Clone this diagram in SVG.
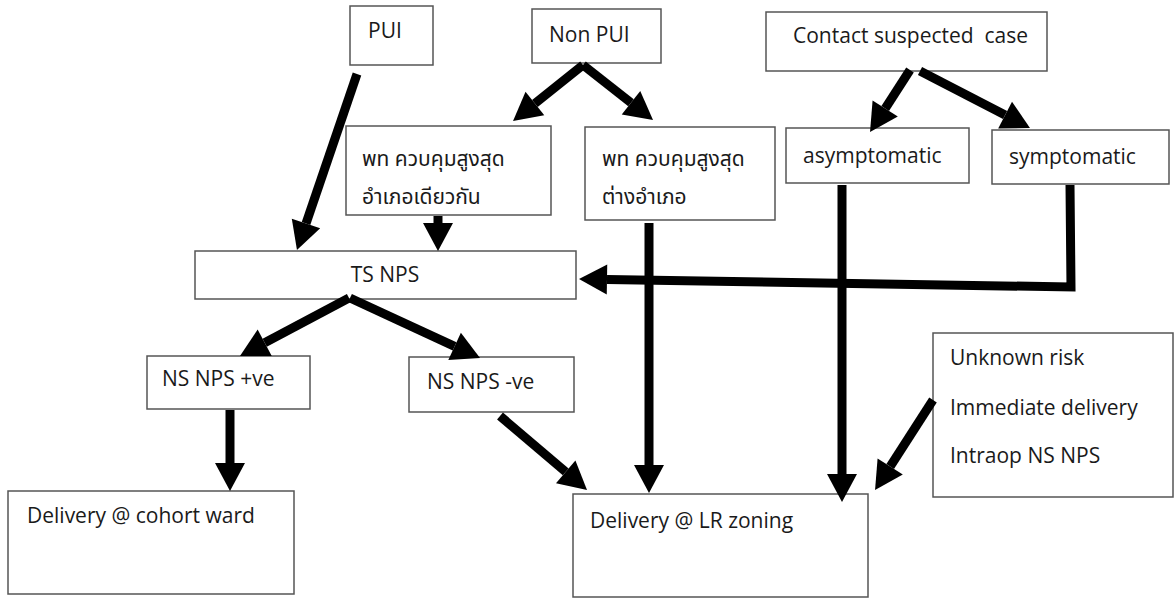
<svg xmlns="http://www.w3.org/2000/svg" width="1174" height="598" viewBox="0 0 1174 598">
<defs>
<style>
.box{fill:#fff;stroke:#555;stroke-width:1.5}
text{font-family:"Open Sans","Noto Sans Thai","Noto Sans",sans-serif;font-size:21px;fill:#1a1a1a;white-space:pre}
.c{stroke:#000;stroke-width:9;fill:none;stroke-linecap:butt;stroke-linejoin:miter}
</style>
<marker id="ah" markerUnits="userSpaceOnUse" markerWidth="28" markerHeight="30" refX="0" refY="15" orient="auto" overflow="visible">
<path d="M0,0 L28,15 L0,30 z" fill="#000"/>
</marker>
</defs>
<rect width="1174" height="598" fill="#fff"/>
<g id="pui"><rect class="box" x="350" y="6" width="83" height="59"/><text x="368" y="38">PUI</text></g>
<g id="nonpui"><rect class="box" x="532" y="9" width="129" height="54"/><text x="549" y="42">Non PUI</text></g>
<g id="contact"><rect class="box" x="766" y="12" width="281" height="59"/><text x="793" y="43" xml:space="preserve">Contact suspected  case</text></g>
<g id="same"><rect class="box" x="346" y="126" width="205" height="89"/><text x="362" y="166">พท ควบคุมสูงสุด</text><text x="362" y="204">อำเภอเดียวกัน</text></g>
<g id="diff"><rect class="box" x="585" y="127" width="190" height="93"/><text x="602" y="166">พท ควบคุมสูงสุด</text><text x="602" y="204">ต่างอำเภอ</text></g>
<g id="asym"><rect class="box" x="786" y="128" width="183" height="55"/><text x="803" y="163">asymptomatic</text></g>
<g id="sym"><rect class="box" x="992" y="130" width="177" height="54"/><text x="1009" y="164">symptomatic</text></g>
<g id="tsnps"><rect class="box" x="195" y="251" width="381" height="48"/><text x="385" y="282" text-anchor="middle">TS NPS</text></g>
<g id="pos"><rect class="box" x="147" y="356" width="163" height="53"/><text x="162" y="386">NS NPS +ve</text></g>
<g id="neg"><rect class="box" x="409" y="357" width="165" height="55"/><text x="427" y="389">NS NPS -ve</text></g>
<g id="unknown"><rect class="box" x="933" y="333" width="240" height="164"/><text x="950" y="365">Unknown risk</text><text x="950" y="415">Immediate delivery</text><text x="950" y="463">Intraop NS NPS</text></g>
<g id="cohort"><rect class="box" x="8" y="491" width="286" height="103"/><text x="27" y="523">Delivery @ cohort ward</text></g>
<g id="lr"><rect class="box" x="573" y="494" width="295" height="103"/><text x="590" y="528">Delivery @ LR zoning</text></g>
<g id="connectors">
<line class="c" x1="357" y1="74" x2="306" y2="223.5" marker-end="url(#ah)"/>
<line class="c" x1="583" y1="65" x2="534.9" y2="103.5" marker-end="url(#ah)"/>
<line class="c" x1="583" y1="65" x2="631" y2="102.7" marker-end="url(#ah)"/>
<line class="c" x1="438" y1="216" x2="438" y2="223" marker-end="url(#ah)"/>
<line class="c" x1="649" y1="223" x2="649" y2="465" marker-end="url(#ah)"/>
<line class="c" x1="910" y1="70" x2="885.2" y2="108.5" marker-end="url(#ah)"/>
<line class="c" x1="920" y1="71" x2="1005.1" y2="115.1" marker-end="url(#ah)"/>
<line class="c" x1="842" y1="185" x2="842" y2="474" marker-end="url(#ah)"/>
<polyline class="c" points="1070,185 1071,287 607,279.5" marker-end="url(#ah)"/>
<line class="c" x1="349" y1="298" x2="264.7" y2="342.8" marker-end="url(#ah)"/>
<line class="c" x1="350" y1="298" x2="454.6" y2="346.3" marker-end="url(#ah)"/>
<line class="c" x1="230" y1="410" x2="230" y2="463" marker-end="url(#ah)"/>
<line class="c" x1="500" y1="416" x2="565.7" y2="471.9" marker-end="url(#ah)"/>
<line class="c" x1="933" y1="400" x2="890.2" y2="466.5" marker-end="url(#ah)"/>
</g>
</svg>
